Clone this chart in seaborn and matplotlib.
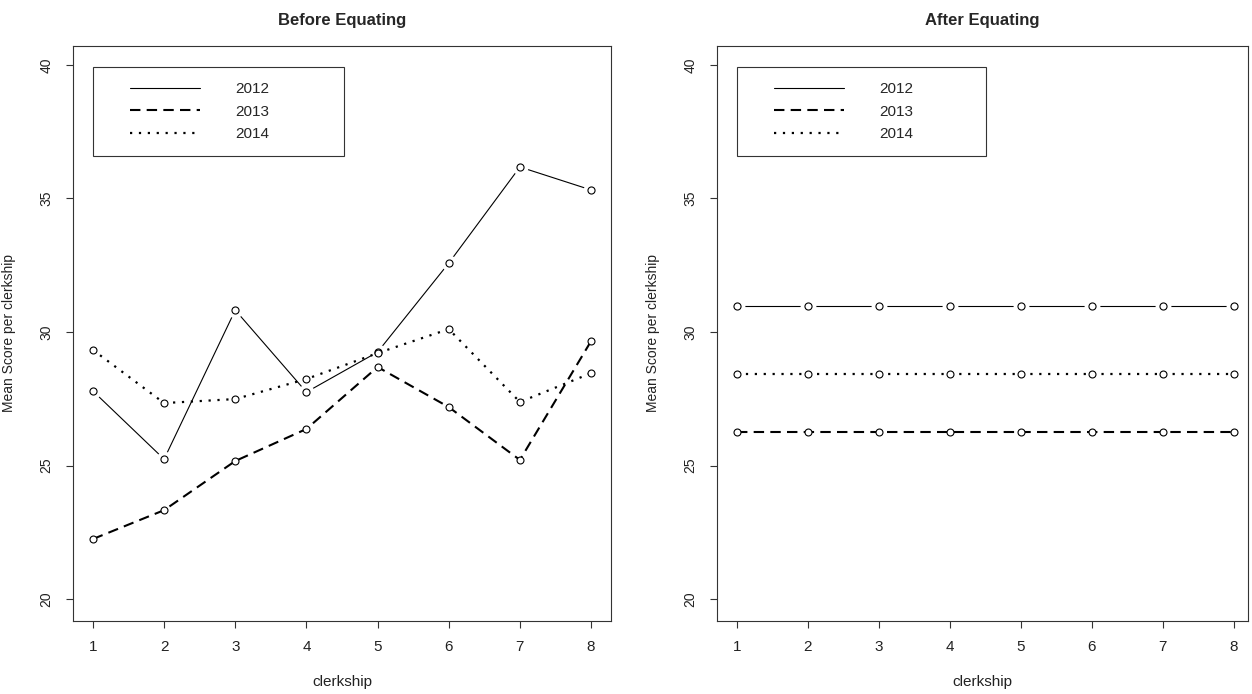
import matplotlib
matplotlib.use("Agg")
import matplotlib.pyplot as plt
from matplotlib.lines import Line2D
from matplotlib.legend_handler import HandlerLine2D
import seaborn as sns

# -------------------------
# data
# -------------------------
clerkship = [1, 2, 3, 4, 5, 6, 7, 8]
years = ["2012", "2013", "2014"]

before_2012 = [27.79, 25.24, 30.82, 27.75, 29.25, 32.58, 36.18, 35.32]
before_2013 = [22.25, 23.33, 25.17, 26.37, 28.69, 27.19, 25.21, 29.66]
before_2014 = [29.33, 27.34, 27.49, 28.24, 29.21, 30.11, 27.38, 28.46]

after_2012 = [30.98] * 8
after_2013 = [26.25] * 8
after_2014 = [28.43] * 8

y_ticks = [20, 25, 30, 35, 40]

sns.set_theme(style="ticks")
plt.rcParams["font.family"] = ["Liberation Sans", "DejaVu Sans"]
plt.rcParams["axes.edgecolor"] = "#333333"
plt.rcParams["axes.linewidth"] = 0.8

# the reference text is horizontally squeezed -> narrow face for flat text
narrow = ["Liberation Sans Narrow", "Liberation Sans", "DejaVu Sans"]

fig = plt.figure(figsize=(12.52, 6.94), dpi=100)
W, H = 1252, 694
# axes boxes in pixels: left, right, top, bottom
ax1 = fig.add_axes([73 / W, 1 - 621 / H, (611 - 73) / W, (621 - 46) / H])
ax2 = fig.add_axes([717 / W, 1 - 621 / H, (1248 - 717) / W, (621 - 46) / H])

dash_style = (0, (5, 3))
dot_style = (0, (1, 3))


def draw_panel(ax, s2012, s2013, s2014, title, xlim, leg_box):
    # 2012: solid line with gaps around the points (R type="b")
    sns.lineplot(x=clerkship, y=s2012, ax=ax, color="black", linewidth=0.8,
                 zorder=2)
    sns.scatterplot(x=clerkship, y=s2012, ax=ax, s=130, color="white",
                    linewidth=0, zorder=2.5)
    sns.scatterplot(x=clerkship, y=s2012, ax=ax, s=26, facecolor="white",
                    edgecolor="black", linewidth=0.8, zorder=2.6)
    # 2013 dashed, 2014 dotted
    sns.lineplot(x=clerkship, y=s2013, ax=ax, color="black", linewidth=1.5,
                 linestyle=dash_style, marker="o", markersize=5,
                 markerfacecolor="white", markeredgecolor="black",
                 markeredgewidth=0.8, zorder=3)
    sns.lineplot(x=clerkship, y=s2014, ax=ax, color="black", linewidth=1.6,
                 linestyle=dot_style, marker="o", markersize=5,
                 markerfacecolor="white", markeredgecolor="black",
                 markeredgewidth=0.8, zorder=3)

    ax.set_xlim(*xlim)
    ax.set_ylim(19.18, 40.71)
    ax.set_xticks(clerkship)
    ax.set_yticks(y_ticks)
    ax.tick_params(axis="both", direction="out", length=5, width=0.8,
                   color="#333333", labelsize=10, labelcolor="#222222")
    ax.tick_params(axis="x", pad=9)
    ax.tick_params(axis="y", pad=9)
    for lab in ax.get_xticklabels():
        lab.set_family(narrow)
        lab.set_fontsize(11)
    for lab in ax.get_yticklabels():
        lab.set_rotation(90)
        lab.set_va("center")
    ax.set_xlabel("clerkship", fontsize=11, family=narrow, color="#222222",
                  labelpad=15)
    ax.set_ylabel("Mean Score per clerkship", fontsize=10, color="#222222",
                  labelpad=17)
    ax.set_title(title, fontsize=12, fontweight="bold", family=narrow, pad=15)
    for sp in ax.spines.values():
        sp.set_visible(True)

    handles = [
        Line2D([], [], color="black", linewidth=0.8),
        Line2D([], [], color="black", linewidth=1.5, linestyle=dash_style),
        Line2D([], [], color="black", linewidth=1.6, linestyle=dot_style),
    ]
    leg = ax.legend(handles, years, loc="upper left", bbox_to_anchor=leg_box,
                    mode="expand", borderaxespad=0, frameon=True,
                    fancybox=False, edgecolor="#333333", framealpha=1,
                    prop={"family": narrow, "size": 11},
                    handlelength=6.0, handletextpad=2.3,
                    borderpad=1.0, labelspacing=0.55,
                    handler_map={Line2D: HandlerLine2D(xpad=1.4)})
    leg.get_frame().set_linewidth(0.8)
    leg.set_zorder(5)


draw_panel(ax1, before_2012, before_2013, before_2014, "Before Equating",
           (0.72, 8.28), (20 / 538, 1 - 21 / 575, 251 / 538, 0))
draw_panel(ax2, after_2012, after_2013, after_2014, "After Equating",
           (0.72, 8.20), (20 / 531, 1 - 21 / 575, 249 / 531, 0))

fig.savefig("out.png", dpi=100)
